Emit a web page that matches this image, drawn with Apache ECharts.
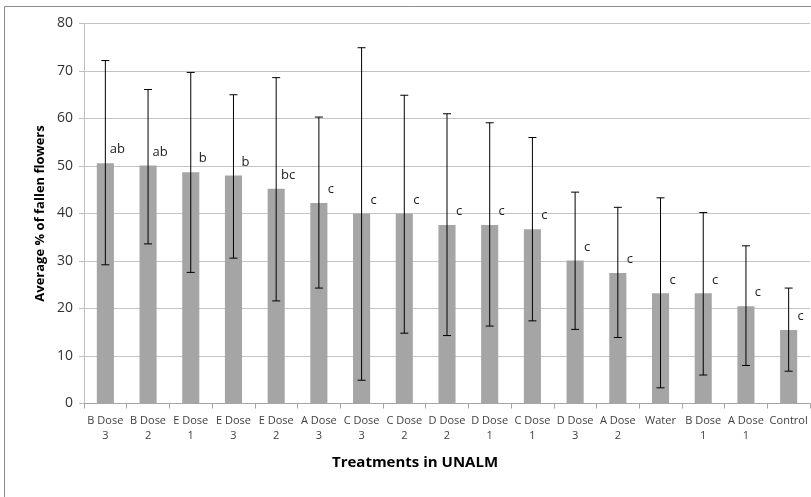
<!DOCTYPE html>
<html>
<head>
<meta charset="utf-8">
<script src="https://cdn.jsdelivr.net/npm/echarts@6/dist/echarts.min.js"></script>
<style>html,body{margin:0;padding:0;background:#fff}#c{width:811px;height:497px}</style>
</head>
<body>
<div id="c"></div>
<script>
var categories = ["B Dose\n3","B Dose\n2","E Dose\n1","E Dose\n3","E Dose\n2","A Dose\n3","C Dose\n3","C Dose\n2","D Dose\n2","D Dose\n1","C Dose\n1","D Dose\n3","A Dose\n2","Water","B Dose\n1","A Dose\n1","Control"];
var means = [50.6,50.1,48.7,48.0,45.2,42.2,40.0,40.0,37.6,37.6,36.7,30.1,27.5,23.2,23.2,20.5,15.5];
var errHigh = [72.2,66.1,69.7,65.0,68.6,60.3,74.9,64.9,61.0,59.1,56.0,44.5,41.3,43.3,40.2,33.2,24.3];
var errLow = [29.2,33.6,27.6,30.6,21.6,24.3,4.9,14.8,14.3,16.3,17.4,15.6,13.9,3.3,6.0,8.0,6.8];
var letters = ["ab","ab","b","b","bc","c","c","c","c","c","c","c","c","c","c","c","c"];
var yTicks = [0,10,20,30,40,50,60,70,80];

var font = '"Open Sans", "Liberation Sans", sans-serif';
var chart = echarts.init(document.getElementById('c'), null, {renderer:'canvas'});
var errData = categories.map(function(c,i){ return [i, errLow[i], errHigh[i]]; });

chart.setOption({
  animation:false,
  backgroundColor:'#fff',
  grid:{left:84, right:1, top:23.5, bottom:93.5, containLabel:false},
  graphic:[
    {type:'rect', shape:{x:4.5,y:6.5,width:900,height:600}, style:{fill:'none', stroke:'#8c8c8c', lineWidth:1}, silent:true},
    {type:'text', x:415, y:463, style:{text:'Treatments in UNALM', font:'bold 15px '+font, fill:'#000', align:'center', verticalAlign:'middle'}},
    {type:'text', x:40, y:213.5, rotation:Math.PI/2, style:{text:'Average % of fallen flowers', font:'bold 13px '+font, fill:'#000', align:'center', verticalAlign:'middle'}}
  ],
  xAxis:{
    type:'category', data:categories,
    axisLine:{show:true, lineStyle:{color:'#a6a6a6', width:1}},
    axisTick:{show:true, alignWithLabel:false, length:5, lineStyle:{color:'#a6a6a6'}},
    axisLabel:{interval:0, fontFamily:font, fontSize:11, color:'#404040', lineHeight:15, margin:10},
    splitLine:{show:false}
  },
  yAxis:{
    type:'value', min:0, max:80, interval:10,
    axisLine:{show:true, lineStyle:{color:'#bfbfbf', width:1}},
    axisTick:{show:true, length:5, lineStyle:{color:'#bfbfbf'}},
    axisLabel:{fontFamily:font, fontSize:14, color:'#333', margin:11,
      formatter:function(v){ return yTicks.indexOf(v)>=0 ? String(v) : ''; }},
    splitLine:{show:true, lineStyle:{color:'#c4c4c4', width:1.2}}
  },
  series:[
    {
      type:'bar', data:means, barWidth:'40%',
      itemStyle:{color:'#a5a5a5'},
      label:{show:true, position:'top', distance:7, offset:[12,0], fontFamily:font, fontSize:13, color:'#222',
        formatter:function(p){ return letters[p.dataIndex]; }},
      z:2
    },
    {
      type:'custom', data:errData, z:5,
      renderItem:function(params, api){
        var x = api.value(0);
        var lo = api.coord([x, api.value(1)]);
        var hi = api.coord([x, api.value(2)]);
        var cw = 4;
        var st = {stroke:'#000', lineWidth:1};
        return {type:'group', children:[
          {type:'line', shape:{x1:lo[0],y1:lo[1],x2:hi[0],y2:hi[1]}, style:st},
          {type:'line', shape:{x1:lo[0]-cw,y1:lo[1],x2:lo[0]+cw,y2:lo[1]}, style:st},
          {type:'line', shape:{x1:hi[0]-cw,y1:hi[1],x2:hi[0]+cw,y2:hi[1]}, style:st}
        ]};
      }
    }
  ]
});
</script>
</body>
</html>
